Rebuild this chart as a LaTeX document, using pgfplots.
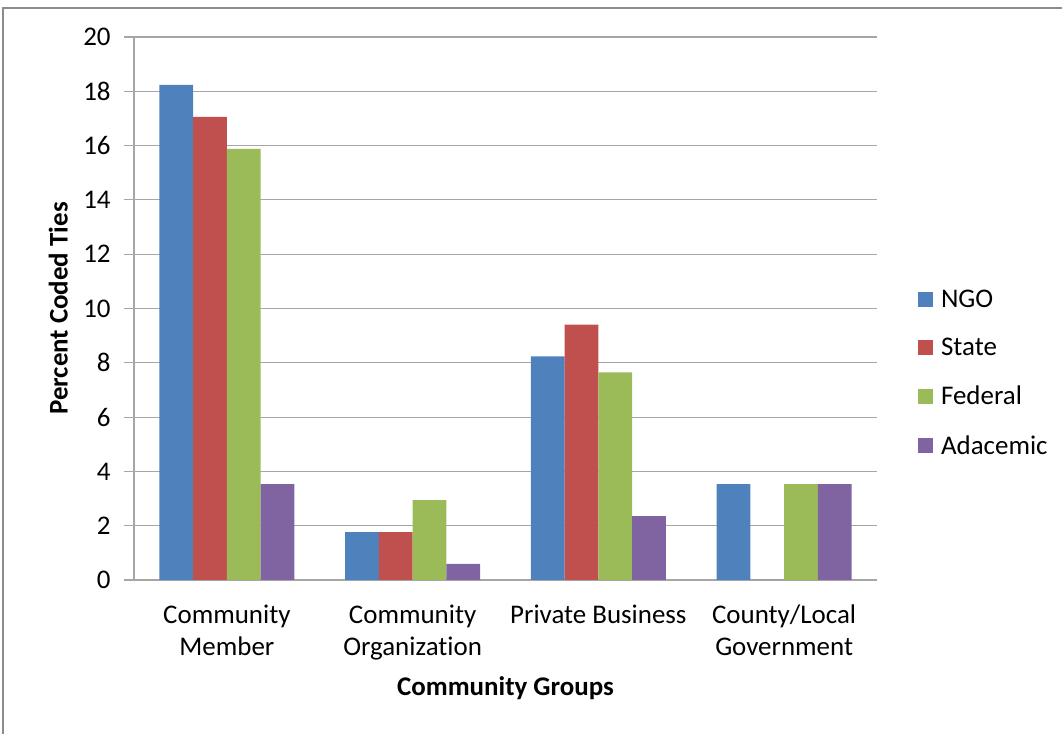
\documentclass[border=0pt]{standalone}
\usepackage{pgfplots}
\pgfplotsset{compat=1.18}
\usepackage{fontspec}
\setmainfont{Carlito}[Ligatures={NoCommon}]
\definecolor{cngo}{HTML}{4F81BD}
\definecolor{cstate}{HTML}{C0504D}
\definecolor{cfed}{HTML}{9BBB59}
\definecolor{cacad}{HTML}{8064A2}
\definecolor{gridc}{HTML}{A6A6A6}
\begin{document}
\begin{tikzpicture}[x=0.75pt,y=0.75pt]
\useasboundingbox (0,0) rectangle (1062,734);
\draw[color=gray!90, line width=1.5pt] (3,0) -- (3,726) -- (1070,726);
\begin{axis}[
  at={(100.5pt,115.5pt)}, anchor=south west,
  scale only axis, width=557.25pt, height=407.25pt,
  ybar=0pt, bar width=25.3pt,
  xmin=-0.5, xmax=3.5, ymin=0, ymax=20,
  ytick={0,2,...,20},
  xtick={0,1,2,3},
  xticklabels={Community\\Member, Community\\Organization, Private Business, County/Local\\Government},
  xticklabel style={align=center, font=\fontsize{20.2}{24.2}\selectfont, yshift=-7.5pt},
  yticklabel style={font=\fontsize{20.2}{24.5}\selectfont, xshift=-6.5pt},
  /pgf/number format/assume math mode=true,
  major x tick style={draw=none},
  extra x ticks={-0.5,0.5,1.5,2.5,3.5},
  extra x tick labels={},
  extra x tick style={major tick length=6.5pt, tick align=outside, tick style={gridc, line width=0.8pt}},
  ytick align=outside, major tick length=7.5pt,
  tick style={gridc, line width=0.8pt},
  axis x line*=bottom, axis y line*=left,
  axis line style={gridc, line width=0.8pt, -},
  ymajorgrids, grid style={gridc, line width=0.8pt},
  xlabel={\textbf{Community Groups}},
  ylabel={\textbf{Percent Coded Ties}},
  label style={font=\fontsize{20.2}{24.5}\selectfont},
  xlabel style={at={(axis description cs:0.5,-0.199)}, anchor=center},
  ylabel style={at={(axis description cs:-0.102,0.5)}, anchor=center, rotate=0},
  legend style={at={(axis description cs:1.055,0.381)}, anchor=west, draw=none, fill=none,
    font=\fontsize{20.2}{24.5}\selectfont, row sep=17.5pt, inner sep=0pt,
    /tikz/every even column/.append style={column sep=0pt}},
  legend cell align=left,
  legend image code/.code={\fill[#1] (0pt,-5.6pt) rectangle (11.2pt,5.6pt);},
  clip=false,
]
\addplot[fill=cngo, draw=none] coordinates {(0,18.24) (1,1.76) (2,8.24) (3,3.53)};
\addplot[fill=cstate, draw=none] coordinates {(0,17.06) (1,1.76) (2,9.41) (3,0)};
\addplot[fill=cfed, draw=none] coordinates {(0,15.88) (1,2.94) (2,7.65) (3,3.53)};
\addplot[fill=cacad, draw=none] coordinates {(0,3.53) (1,0.59) (2,2.35) (3,3.53)};
\legend{\hspace{4pt}NGO, \hspace{4pt}State, \hspace{4pt}Federal, \hspace{4pt}Adacemic}
\end{axis}
\end{tikzpicture}
\end{document}
